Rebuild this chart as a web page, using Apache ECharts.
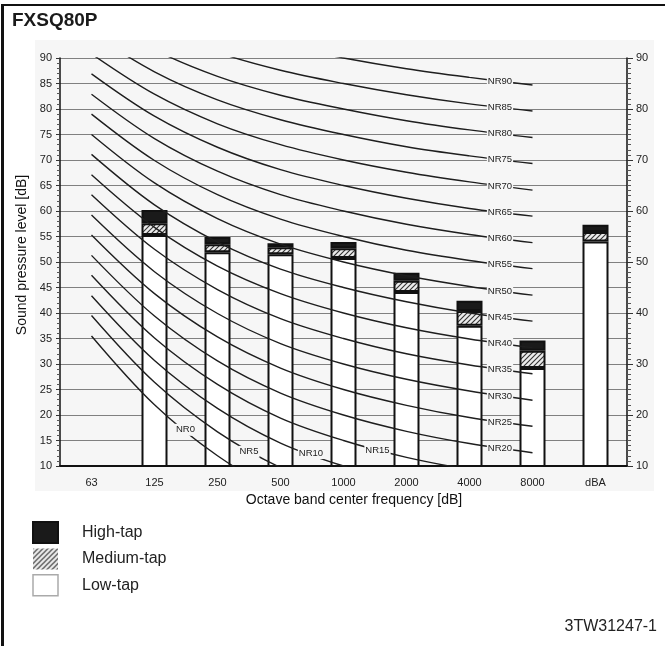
<!DOCTYPE html>
<html>
<head>
<meta charset="utf-8">
<script src="https://cdn.jsdelivr.net/npm/echarts@6/dist/echarts.min.js"></script>
<style>
  html, body { margin: 0; padding: 0; background: #fff; }
  #chart { width: 665px; height: 646px; }
</style>
</head>
<body>
<div id="chart"></div>
<script>
const categories = ['63', '125', '250', '500', '1000', '2000', '4000', '8000', 'dBA'];

// top of each stacked segment (dB), 63 Hz has no bar
const lowTap = [null, 55.3, 51.9, 51.5, 50.8, 44.1, 37.5, 29.2, 54.0];
const mediumTap = [null, 57.6, 53.5, 52.9, 52.7, 46.3, 40.4, 32.6, 55.9];
const highTap = [null, 60.2, 54.9, 53.7, 53.9, 47.9, 42.4, 34.6, 57.3];

// NR curves, 63 .. 8000 Hz
const nr0 = [35.5, 22.0, 12.0, 4.8, 0.0, -3.5, -6.1, -8.0];
const nr5 = [39.5, 26.4, 16.7, 9.7, 5.0, 1.6, -1.0, -2.9];
const nr10 = [43.4, 30.7, 21.3, 14.5, 10.0, 6.7, 4.2, 2.3];
const nr15 = [47.4, 35.1, 26.0, 19.4, 15.0, 11.7, 9.3, 7.5];
const nr20 = [51.3, 39.4, 30.6, 24.3, 20.0, 16.8, 14.4, 12.6];
const nr25 = [55.3, 43.8, 35.3, 29.2, 25.0, 21.9, 19.5, 17.8];
const nr30 = [59.2, 48.1, 39.9, 34.0, 30.0, 27.0, 24.7, 22.9];
const nr35 = [63.2, 52.5, 44.6, 38.9, 35.0, 32.0, 29.8, 28.1];
const nr40 = [67.1, 56.8, 49.2, 43.8, 40.0, 37.1, 34.9, 33.2];
const nr45 = [71.1, 61.2, 53.9, 48.6, 45.0, 42.2, 40.0, 38.4];
const nr50 = [75.0, 65.5, 58.5, 53.5, 50.0, 47.3, 45.2, 43.5];
const nr55 = [79.0, 69.9, 63.2, 58.4, 55.0, 52.3, 50.3, 48.7];
const nr60 = [82.9, 74.2, 67.8, 63.2, 60.0, 57.4, 55.4, 53.8];
const nr65 = [86.9, 78.6, 72.5, 68.1, 65.0, 62.5, 60.5, 59.0];
const nr70 = [90.8, 82.9, 77.1, 73.0, 70.0, 67.6, 65.7, 64.1];
const nr75 = [94.8, 87.3, 81.8, 77.9, 75.0, 72.6, 70.8, 69.3];
const nr80 = [98.7, 91.6, 86.4, 82.7, 80.0, 77.7, 75.9, 74.4];
const nr85 = [102.7, 96.0, 91.1, 87.6, 85.0, 82.8, 81.0, 79.6];
const nr90 = [106.6, 100.3, 95.7, 92.5, 90.0, 87.9, 86.2, 84.7];

const nrNames = ['NR0', 'NR5', 'NR10', 'NR15', 'NR20', 'NR25', 'NR30', 'NR35', 'NR40', 'NR45',
  'NR50', 'NR55', 'NR60', 'NR65', 'NR70', 'NR75', 'NR80', 'NR85', 'NR90'];
const nrCurves = [nr0, nr5, nr10, nr15, nr20, nr25, nr30, nr35, nr40, nr45,
  nr50, nr55, nr60, nr65, nr70, nr75, nr80, nr85, nr90];

// where each NR label sits: [point index, pixel offset]
const labelSpots = {
  NR0: [1, [31, 25]],
  NR5: [2, [31.5, 20]],
  NR10: [3, [30.5, 10]],
  NR15: [4, [34, 10]],
};
const defaultSpot = [7, [-32.5, -4]];

const plotBg = '#f6f6f6';

// diagonal hatch for the medium-tap segment
const hatch = document.createElement('canvas');
hatch.width = 5;
hatch.height = 5;
const hg = hatch.getContext('2d');
hg.fillStyle = '#ececec';
hg.fillRect(0, 0, 5, 5);
hg.strokeStyle = '#333';
hg.lineWidth = 1.1;
hg.beginPath();
hg.moveTo(0, 5); hg.lineTo(5, 0);
hg.moveTo(-1, 1); hg.lineTo(1, -1);
hg.moveTo(4, 6); hg.lineTo(6, 4);
hg.stroke();

const diff = (top, base) => top.map((v, i) => (v == null ? null : +(v - (base ? base[i] : 0)).toFixed(2)));

const nrSeries = nrCurves.map((vals, k) => {
  const name = nrNames[k];
  const [idx, offset] = labelSpots[name] || defaultSpot;
  return {
    name,
    type: 'line',
    smooth: 0.35,
    symbol: 'none',
    showSymbol: true,
    showAllSymbol: true,
    silent: true,
    clip: true,
    lineStyle: { color: '#1e1e1e', width: 1.4 },
    data: vals.map((v, i) =>
      i === idx
        ? {
            value: v,
            symbol: 'circle',
            symbolSize: 0,
            label: {
              show: true,
              position: 'inside',
              offset,
              formatter: name,
              fontSize: 9.5,
              color: '#222',
              backgroundColor: plotBg,
              padding: [1, 1],
            },
          }
        : v
    ),
  };
});

const barBase = {
  type: 'bar',
  stack: 'tap',
  barWidth: 26,
  silent: true,
};

const chart = echarts.init(document.getElementById('chart'));

chart.setOption({
  animation: false,
  textStyle: { fontFamily: 'Liberation Sans' },
  grid: { left: 60, right: 38, top: 58, bottom: 180 },
  graphic: [
    { type: 'rect', left: 35, top: 40, shape: { width: 619, height: 451 }, style: { fill: plotBg }, z: -10, silent: true },
    { type: 'line', shape: { x1: 2.5, y1: 5, x2: 2.5, y2: 646 }, style: { stroke: '#111', lineWidth: 3 }, silent: true },
    { type: 'line', shape: { x1: 1, y1: 5, x2: 665, y2: 5 }, style: { stroke: '#111', lineWidth: 2 }, silent: true },
    {
      type: 'text', x: 12, y: 21,
      style: { text: 'FXSQ80P', fontSize: 19, fontWeight: 'bold', fontFamily: 'Liberation Sans', fill: '#1a1a1a', verticalAlign: 'middle' },
    },
    {
      type: 'text', x: 657, y: 627,
      style: { text: '3TW31247-1', fontSize: 16, fontFamily: 'Liberation Sans', fill: '#222', align: 'right', verticalAlign: 'middle' },
    },
  ],
  legend: {
    orient: 'vertical',
    left: 32,
    top: 521,
    padding: 0,
    itemWidth: 25,
    itemHeight: 21,
    itemGap: 4.5,
    icon: 'rect',
    selectedMode: false,
    data: [
      { name: 'High-tap' },
      { name: 'Medium-tap', itemStyle: { borderWidth: 0 } },
      { name: 'Low-tap', itemStyle: { borderColor: '#aaa', borderWidth: 1.5 } },
    ],
    textStyle: { fontSize: 16, color: '#222', padding: [0, 0, 0, 19] },
  },
  xAxis: {
    type: 'category',
    data: categories,
    boundaryGap: true,
    axisLine: { lineStyle: { color: '#111', width: 2 } },
    axisTick: { show: false },
    axisLabel: { fontSize: 11, color: '#222', margin: 11 },
    splitLine: { show: false },
    name: 'Octave band center frequency [dB]',
    nameLocation: 'middle',
    nameGap: 25,
    nameTextStyle: { fontSize: 14, color: '#111', padding: [0, 0, 0, 21] },
  },
  yAxis: [
    {
      type: 'value',
      position: 'left',
      min: 10,
      max: 90,
      interval: 5,
      axisLine: { show: true, lineStyle: { color: '#111', width: 1.5 } },
      axisTick: { show: true, length: 4, lineStyle: { color: '#333' } },
      minorTick: { show: true, splitNumber: 5, length: 3, lineStyle: { color: '#555' } },
      axisLabel: { fontSize: 11, color: '#222', margin: 8 },
      splitLine: { lineStyle: { color: '#808080', width: 1.2 } },
      name: 'Sound pressure level [dB]',
      nameLocation: 'middle',
      nameGap: 28,
      nameTextStyle: { fontSize: 14, color: '#111', padding: [0, 0, 0, 14] },
    },
    {
      type: 'value',
      position: 'right',
      min: 10,
      max: 90,
      interval: 10,
      axisLine: { show: true, lineStyle: { color: '#111', width: 1.5 } },
      axisTick: { show: true, length: 6, lineStyle: { color: '#333' } },
      minorTick: { show: true, splitNumber: 10, length: 4, lineStyle: { color: '#555' } },
      axisLabel: { fontSize: 11, color: '#222', margin: 9 },
      splitLine: { show: false },
    },
  ],
  series: [
    ...nrSeries,
    {
      ...barBase,
      name: 'Low-tap',
      data: diff(lowTap),
      itemStyle: { color: '#fff', borderColor: '#111', borderWidth: 2 },
    },
    {
      ...barBase,
      name: 'Medium-tap',
      data: diff(mediumTap, lowTap),
      itemStyle: { color: { image: hatch, repeat: 'repeat' }, borderColor: '#111', borderWidth: 2 },
    },
    {
      ...barBase,
      name: 'High-tap',
      data: diff(highTap, mediumTap),
      itemStyle: { color: '#1a1a1a', borderColor: '#111', borderWidth: 2 },
    },
  ],
});
</script>
</body>
</html>
